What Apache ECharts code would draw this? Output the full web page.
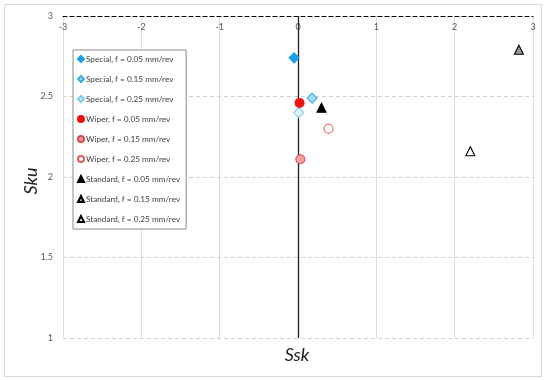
<!DOCTYPE html>
<html><head><meta charset="utf-8">
<script src="https://cdn.jsdelivr.net/npm/echarts@6/dist/echarts.min.js"></script>
<style>html,body{margin:0;padding:0;background:#fff}#c{width:550px;height:380px}</style>
</head><body><div id="c"></div>
<script>
// Data: [Ssk, Sku]
const special005 = [[-0.05, 2.74]];
const special015 = [[0.18, 2.49]];
const special025 = [[0.01, 2.40]];
const wiper005 = [[0.02, 2.46]];
const wiper015 = [[0.03, 2.11]];
const wiper025 = [[0.39, 2.30]];
const standard005 = [[0.30, 2.43]];
const standard015 = [[2.82, 2.79]];
const standard025 = [[2.20, 2.16]];
const seriesNames = [
  'Special, f = 0.05 mm/rev','Special, f = 0.15 mm/rev','Special, f = 0.25 mm/rev',
  'Wiper, f = 0.05 mm/rev','Wiper, f = 0.15 mm/rev','Wiper, f = 0.25 mm/rev',
  'Standard, f = 0.05 mm/rev','Standard, f = 0.15 mm/rev','Standard, f = 0.25 mm/rev'
];
const seriesData = [special005, special015, special025, wiper005, wiper015, wiper025, standard005, standard015, standard025];
const xTicks = [-3, -2, -1, 0, 1, 2, 3];
const yTicks = [1, 1.5, 2, 2.5, 3];

const styles = [
  {symbol:'diamond', size:10, fill:'#1ba1e2', stroke:'#1ba1e2'},
  {symbol:'diamond', size:10, fill:'#a5dbf2', stroke:'#3aaee0'},
  {symbol:'diamond', size:10, fill:'#e8f6fc', stroke:'#7cccee'},
  {symbol:'circle', size:9, fill:'#ee1111', stroke:'#ee1111'},
  {symbol:'circle', size:9, fill:'#f2a0a0', stroke:'#d84848'},
  {symbol:'circle', size:9, fill:'#ffffff', stroke:'#e05a5a'},
  {symbol:'triangle', size:9, fill:'#000000', stroke:'#000000'},
  {symbol:'triangle', size:9, fill:'#9a9a9a', stroke:'#000000'},
  {symbol:'triangle', size:9, fill:'#ffffff', stroke:'#000000'}
];

const series = seriesData.map((d, i) => ({
  name: seriesNames[i],
  type: 'scatter',
  data: d,
  symbol: styles[i].symbol,
  symbolSize: styles[i].size,
  itemStyle: {color: styles[i].fill, borderColor: styles[i].stroke, borderWidth: 1.1, opacity: 1},
  z: 5
}));
series.push({
  type: 'scatter', data: [], silent: true,
  markLine: {silent: true, symbol: 'none', label: {show: false},
    lineStyle: {color: '#222', type: 'solid', width: 1.3},
    data: [{xAxis: 0}]}
});

const chart = echarts.init(document.getElementById('c'), null, {renderer: 'canvas'});
chart.setOption({
  animation: false,
  backgroundColor: '#fff',
  grid: {left: 63, right: 17, top: 16, bottom: 42},
  xAxis: {
    type: 'value', min: xTicks[0], max: xTicks[xTicks.length-1], interval: 1,
    position: 'top',
    axisLine: {show: true, onZero: false, lineStyle: {color: '#000', type: [4, 3], width: 1.2}},
    axisTick: {show: false},
    axisLabel: {inside: true, margin: 7, color: '#595959', fontSize: 9, fontFamily: 'Lato'},
    splitLine: {show: true, lineStyle: {color: '#dcdcdc', type: 'solid', width: 1}}
  },
  yAxis: {
    type: 'value', min: yTicks[0], max: yTicks[yTicks.length-1], interval: 0.5,
    axisLine: {show: false}, axisTick: {show: false},
    axisLabel: {margin: 10, color: '#595959', fontSize: 9, fontFamily: 'Lato'},
    splitLine: {show: true, lineStyle: {color: '#d0d0d0', type: [4, 3], width: 1}}
  },
  legend: {
    orient: 'vertical', left: 73, top: 50,
    data: seriesNames,
    itemWidth: 6, itemHeight: 6, itemGap: 12,
    padding: [5, 6, 6, 4],
    borderColor: '#8c8c8c', borderWidth: 1, backgroundColor: '#fff',
    textStyle: {fontSize: 8.2, lineHeight: 8, color: '#404040', fontFamily: 'Lato', padding: [0, 0, 0, -3]},
    z: 10
  },
  graphic: [
    {type: 'rect', shape: {x: 4.5, y: 4.5, width: 537, height: 372}, style: {fill: 'none', stroke: '#d9d9d9', lineWidth: 1}, silent: true},
    {type: 'text', x: 297, y: 355, style: {text: 'Ssk', align: 'center', verticalAlign: 'middle', font: 'italic 18px Lato', fill: '#222'}},
    {type: 'text', x: 31, y: 181, rotation: Math.PI / 2, style: {text: 'Sku', align: 'center', verticalAlign: 'middle', font: 'italic 18px Lato', fill: '#222'}}
  ],
  series: series
});
</script></body></html>
